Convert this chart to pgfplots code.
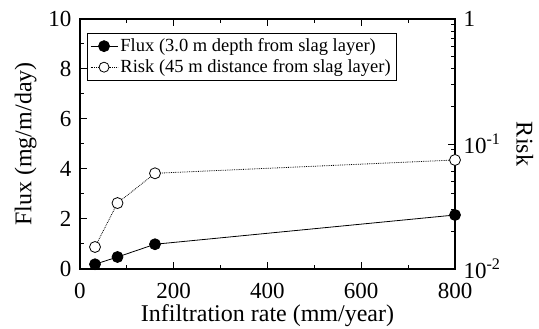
\documentclass[border=0pt]{standalone}
\usepackage{fontspec}
\setmainfont{Liberation Serif}
\usepackage{pgfplots}
\pgfplotsset{compat=1.18}
\begin{document}
\begin{tikzpicture}
\pgfplotsset{
  common/.style={
    scale only axis, width=375pt, height=250pt,
    xmin=0, xmax=800,
    tick align=inside,
    axis line style={line width=1.6pt},
    major tick length=7pt, minor tick length=4pt,
    tick style={line width=1pt, black},
    tick label style={font=\fontsize{23}{23}\selectfont},
    label style={font=\fontsize{24}{24}\selectfont},
    /pgf/number format/assume math mode=true,
    clip=false,
  }
}
\begin{axis}[common, name=a,
  ymin=0, ymax=10,
  xtick={0,200,...,800}, minor xtick={100,300,500,700},
  ytick={0,2,...,10}, minor ytick={1,3,...,9},
  xtick pos=both, ytick pos=left,
  xticklabel style={yshift=-11pt},
  yticklabel style={xshift=-5pt},
  xlabel={Infiltration rate (mm/year)},
  xlabel style={yshift=1pt},
  ylabel={Flux (mg/m/day)},
  ylabel style={yshift=5pt},
  legend image code/.code={\draw[mark repeat=2,mark phase=2,#1] plot coordinates {(0pt,0pt) (13.5pt,0pt) (27pt,0pt)};},
  legend style={at={(0.018,0.944)}, anchor=north west, draw=black, line width=0.8pt,
    font=\fontsize{18.5}{18.5}\selectfont, legend cell align=left, inner sep=3pt, row sep=1.5pt,
    nodes={inner sep=2.5pt}},
]
\addplot[black, line width=0.8pt, mark=*, mark size=5.5pt, mark options={solid, fill=black}]
  coordinates {(32,0.19) (80,0.48) (160,0.99) (800,2.16)};
\addlegendentry{Flux (3.0 m depth from slag layer)}
\addlegendimage{black, line width=0.8pt, densely dotted, mark=*, mark size=5pt, mark options={solid, fill=white}}
\addlegendentry{Risk (45 m distance from slag layer)}
\end{axis}
\begin{axis}[common,
  ymode=log, ymin=0.01, ymax=1,
  axis x line=none, axis y line*=right,
  ytick={0.01,0.1,1},
  yticklabels={10\textsuperscript{-2},10\textsuperscript{-1},1},
  yticklabel style={xshift=5pt},
  ylabel={Risk},
  ylabel style={rotate=180, yshift=9pt},
]
\addplot[black, line width=0.8pt, densely dotted, mark=*, mark size=5.5pt, mark options={solid, fill=white}]
  coordinates {(32,0.015) (80,0.0337) (160,0.0583) (800,0.0745)};
\end{axis}
\pgfresetboundingbox
\path ([shift={(-80pt,-60pt)}]a.south west) rectangle ([shift={(84pt,19pt)}]a.north east);
\end{tikzpicture}
\end{document}
